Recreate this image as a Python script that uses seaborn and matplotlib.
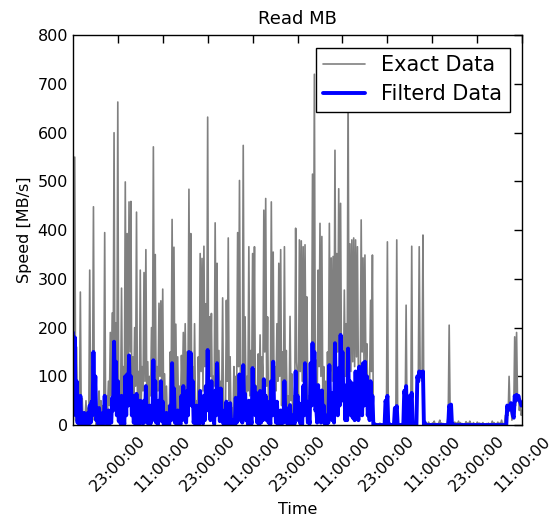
import matplotlib
matplotlib.use("Agg")
import matplotlib.pyplot as plt
import matplotlib.dates as mdates
import numpy as np
import pandas as pd
import seaborn as sns

# Samples every 30 min starting 11:00 (peaks), plus the in-between
# readings 15 min later (troughs), covering 5 days
start_time = "2013-05-01 11:00"
n_samples = 241

exact_peaks = [
    120, 550, 160, 60, 273, 55, 20, 50, 35, 318,
    120, 448, 80, 15, 70, 50, 40, 395, 60, 90,
    190, 230, 600, 210, 663, 90, 281, 120, 499, 393,
    458, 459, 140, 200, 437, 110, 318, 120, 313, 360,
    130, 100, 200, 571, 350, 120, 250, 255, 279, 105,
    80, 40, 150, 422, 365, 207, 140, 80, 143, 190,
    208, 150, 484, 393, 120, 208, 50, 140, 352, 342,
    367, 249, 632, 222, 229, 100, 415, 332, 153, 90,
    261, 30, 256, 384, 140, 35, 120, 100, 395, 502,
    110, 574, 222, 100, 366, 153, 352, 366, 80, 146,
    185, 140, 441, 465, 222, 90, 458, 355, 120, 208,
    332, 360, 150, 366, 153, 60, 223, 105, 60, 404,
    100, 380, 378, 366, 370, 263, 60, 105, 515, 720,
    133, 318, 414, 387, 120, 90, 150, 414, 343, 346,
    564, 352, 485, 455, 180, 277, 208, 700, 372, 380,
    384, 380, 366, 120, 421, 343, 349, 167, 100, 256,
    349, 5, 3, 2, 4, 2, 3, 50, 376, 3,
    2, 4, 35, 380, 3, 2, 4, 70, 246, 5,
    60, 367, 3, 2, 100, 366, 100, 390, 5, 3,
    6, 2, 4, 8, 3, 2, 10, 4, 3, 2,
    5, 205, 40, 3, 6, 4, 8, 5, 3, 2,
    7, 4, 8, 3, 5, 2, 6, 4, 3, 5,
    2, 3, 4, 2, 8, 5, 3, 6, 4, 10,
    3, 20, 40, 100, 45, 20, 181, 190, 60, 48,
    30,
]

exact_troughs = [
    40, 10, 5, 20, 5, 0, 10, 5, 15, 30,
    60, 10, 0, 5, 20, 0, 25, 10, 30, 40,
    60, 80, 40, 70, 20, 50, 30, 60, 90, 110,
    150, 50, 60, 80, 30, 20, 50, 70, 90, 40,
    20, 60, 90, 110, 40, 70, 100, 60, 30, 10,
    5, 20, 80, 120, 60, 30, 10, 40, 70, 60,
    50, 90, 130, 40, 10, 30, 5, 60, 110, 70,
    120, 80, 60, 100, 40, 80, 130, 50, 30, 60,
    10, 20, 90, 50, 10, 0, 40, 60, 120, 80,
    60, 100, 40, 70, 60, 80, 120, 50, 30, 60,
    40, 90, 150, 80, 30, 60, 120, 50, 70, 90,
    100, 40, 70, 60, 20, 30, 50, 10, 40, 130,
    60, 110, 90, 80, 130, 40, 30, 80, 150, 60,
    40, 120, 100, 50, 30, 10, 60, 110, 90, 140,
    120, 150, 130, 90, 70, 100, 80, 140, 110, 130,
    120, 140, 100, 90, 150, 130, 120, 60, 80, 110,
    2, 1, 1, 1, 1, 1, 2, 20, 2, 1,
    1, 2, 10, 2, 1, 1, 2, 30, 2, 2,
    20, 2, 1, 30, 90, 100, 90, 3, 2, 1,
    2, 1, 3, 1, 2, 5, 1, 2, 1, 1,
    20, 30, 2, 1, 3, 2, 1, 2, 1, 2,
    2, 1, 3, 2, 1, 2, 1, 3, 2, 1,
    1, 2, 1, 3, 2, 1, 2, 1, 2, 1,
    1, 5, 20, 30, 10, 30, 40, 50, 30, 20,
]

filtered_peaks = [
    190, 180, 90, 30, 60, 15, 25, 10, 25, 40,
    48, 150, 100, 20, 35, 10, 25, 60, 15, 30,
    25, 56, 171, 130, 90, 20, 60, 15, 100, 104,
    143, 100, 60, 20, 64, 15, 50, 20, 50, 80,
    15, 40, 20, 133, 90, 15, 50, 90, 48, 10,
    25, 5, 40, 127, 75, 15, 30, 10, 60, 80,
    30, 70, 150, 148, 90, 20, 40, 15, 70, 20,
    60, 80, 154, 60, 90, 20, 70, 127, 60, 75,
    15, 30, 48, 15, 45, 10, 10, 56, 30, 104,
    40, 123, 64, 20, 50, 15, 117, 80, 66, 20,
    70, 30, 94, 60, 48, 15, 90, 130, 40, 48,
    15, 30, 20, 90, 35, 10, 41, 20, 10, 110,
    60, 44, 15, 80, 127, 48, 15, 127, 168, 150,
    35, 82, 30, 71, 40, 20, 10, 123, 66, 30,
    168, 90, 117, 185, 150, 82, 40, 157, 90, 86,
    40, 110, 60, 120, 80, 127, 130, 100, 48, 90,
    60, 2, 0, 0, 0, 0, 0, 50, 60, 2,
    0, 0, 35, 39, 0, 0, 0, 70, 80, 5,
    60, 66, 2, 0, 100, 110, 108, 110, 5, 0,
    0, 0, 0, 0, 0, 0, 0, 0, 0, 0,
    0, 40, 42, 2, 0, 0, 0, 0, 0, 0,
    0, 0, 0, 0, 0, 0, 0, 0, 0, 0,
    0, 0, 0, 0, 0, 0, 0, 0, 0, 0,
    0, 0, 40, 40, 45, 20, 60, 62, 60, 48,
    45,
]

filtered_troughs = [
    60, 20, 5, 2, 3, 1, 2, 1, 3, 5,
    20, 40, 10, 2, 3, 1, 4, 5, 2, 3,
    5, 30, 60, 20, 8, 3, 5, 2, 20, 40,
    50, 20, 5, 2, 5, 1, 6, 3, 10, 5,
    2, 3, 10, 40, 5, 2, 10, 8, 2, 1,
    1, 0, 10, 30, 5, 1, 3, 1, 10, 20,
    5, 20, 50, 40, 5, 2, 3, 2, 10, 3,
    10, 30, 50, 10, 15, 2, 20, 30, 8, 10,
    2, 3, 5, 2, 4, 1, 2, 5, 10, 30,
    5, 40, 10, 2, 5, 3, 30, 20, 5, 2,
    5, 10, 30, 10, 5, 2, 20, 30, 5, 3,
    1, 3, 5, 20, 3, 1, 5, 2, 3, 20,
    10, 3, 2, 20, 30, 5, 3, 40, 60, 30,
    5, 15, 5, 10, 3, 2, 5, 30, 10, 5,
    50, 20, 40, 70, 50, 10, 10, 50, 20, 15,
    10, 30, 10, 40, 20, 40, 50, 20, 10, 20,
    0, 0, 0, 0, 0, 0, 0, 40, 0, 0,
    0, 0, 30, 0, 0, 0, 0, 60, 0, 0,
    50, 0, 0, 0, 90, 100, 100, 0, 0, 0,
    0, 0, 0, 0, 0, 0, 0, 0, 0, 0,
    0, 35, 0, 0, 0, 0, 0, 0, 0, 0,
    0, 0, 0, 0, 0, 0, 0, 0, 0, 0,
    0, 0, 0, 0, 0, 0, 0, 0, 0, 0,
    0, 0, 30, 35, 30, 15, 50, 55, 50, 40,
]

y_ticks = [0, 100, 200, 300, 400, 500, 600, 700, 800]
title = "Read MB"
x_label = "Time"
y_label = "Speed [MB/s]"
series_labels = ["Exact Data", "Filterd Data"]

t_peaks = pd.date_range(start_time, periods=n_samples, freq="30min")
t_troughs = t_peaks[:-1] + pd.Timedelta(minutes=15)
df = pd.concat([
    pd.DataFrame({"time": t_peaks, "exact": exact_peaks, "filtered": filtered_peaks}),
    pd.DataFrame({"time": t_troughs, "exact": exact_troughs, "filtered": filtered_troughs}),
]).sort_values("time").reset_index(drop=True)

sns.set_theme(style="white")
plt.rcParams["font.family"] = ["DejaVu Sans"]
plt.rcParams["text.color"] = "black"
plt.rcParams["axes.labelcolor"] = "black"
plt.rcParams["xtick.color"] = "black"
plt.rcParams["ytick.color"] = "black"

fig = plt.figure(figsize=(5.52, 5.19), dpi=100)
ax = fig.add_axes([0.132, 0.181, 0.814, 0.751])

sns.lineplot(data=df, x="time", y="exact", ax=ax, color="#808080",
             linewidth=1.2, label=series_labels[0], estimator=None)
sns.lineplot(data=df, x="time", y="filtered", ax=ax, color="#0000ff",
             linewidth=2.8, label=series_labels[1], estimator=None)

ax.set_xlim(t_peaks[0], t_peaks[-1])
ax.set_ylim(0, 800)
ax.set_yticks(y_ticks)
ax.set_xticks(t_peaks[24::24])
ax.xaxis.set_major_formatter(mdates.DateFormatter("%H:%M:%S"))
plt.setp(ax.get_xticklabels(), rotation=45, ha="center")

ax.tick_params(direction="in", top=True, right=True, length=6, width=1,
               labelsize=11.5, colors="black")
ax.tick_params(axis="x", pad=6)
for s in ax.spines.values():
    s.set_color("black")
    s.set_linewidth(1.0)

ax.set_title(title, fontsize=13, pad=8, color="black")
ax.set_xlabel(x_label, fontsize=11.5, labelpad=5)
ax.set_ylabel(y_label, fontsize=11.5, labelpad=4)

leg = ax.legend(loc="upper right", fontsize=15, fancybox=False, framealpha=1,
                edgecolor="black", handlelength=2.0, borderaxespad=0.6,
                labelspacing=0.45, borderpad=0.35)
leg.get_frame().set_linewidth(1.0)
for t in leg.get_texts():
    t.set_color("black")
leg_lines = leg.get_lines()
leg_lines[0].set_linewidth(1.2)
leg_lines[1].set_linewidth(2.8)

fig.savefig("out.png", dpi=100)
